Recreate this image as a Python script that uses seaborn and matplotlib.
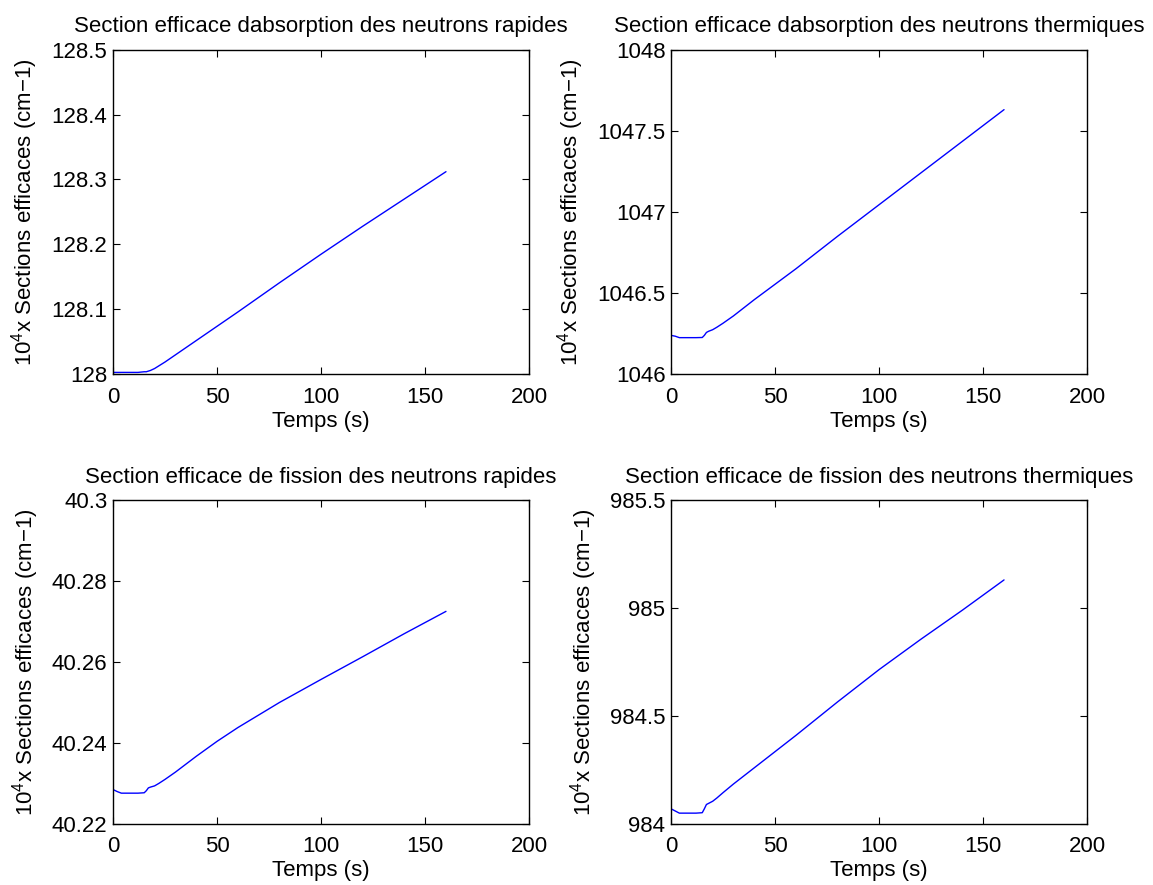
# Sections efficaces vs temps (4 panneaux)
import matplotlib
matplotlib.use("Agg")
import matplotlib.pyplot as plt
import seaborn as sns

# Data
t = [0, 2, 4, 8, 12, 15, 16, 17, 18, 20, 22, 25, 30, 40, 50, 60, 80, 100, 120, 140, 160]

abs_rapide = [128.003, 128.003, 128.003, 128.003, 128.003, 128.004, 128.004, 128.005, 128.006,
              128.009, 128.013, 128.019, 128.030, 128.052, 128.074, 128.096, 128.141, 128.185,
              128.228, 128.270, 128.312]
abs_thermique = [1046.24, 1046.235, 1046.226, 1046.226, 1046.226, 1046.227, 1046.24, 1046.258,
                 1046.265, 1046.275, 1046.29, 1046.315, 1046.36, 1046.46, 1046.555, 1046.65,
                 1046.85, 1047.045, 1047.24, 1047.435, 1047.63]
fis_rapide = [40.2285, 40.2280, 40.2276, 40.2276, 40.2276, 40.2277, 40.2282, 40.2289, 40.2291,
              40.2294, 40.2300, 40.2310, 40.2328, 40.2367, 40.2404, 40.2438, 40.2500, 40.2557,
              40.2613, 40.2670, 40.2725]
fis_thermique = [984.07, 984.06, 984.05, 984.05, 984.05, 984.052, 984.07, 984.09, 984.095,
                 984.105, 984.12, 984.145, 984.185, 984.26, 984.335, 984.41, 984.565, 984.715,
                 984.855, 984.99, 985.13]

titres = ["Section efficace dabsorption des neutrons rapides",
          "Section efficace dabsorption des neutrons thermiques",
          "Section efficace de fission des neutrons rapides",
          "Section efficace de fission des neutrons thermiques"]
x_ticks = [0, 50, 100, 150, 200]
y_ticks = [[128, 128.1, 128.2, 128.3, 128.4, 128.5],
           [1046, 1046.5, 1047, 1047.5, 1048],
           [40.22, 40.24, 40.26, 40.28, 40.3],
           [984, 984.5, 985, 985.5]]
y_labels = [["128", "128.1", "128.2", "128.3", "128.4", "128.5"],
            ["1046", "1046.5", "1047", "1047.5", "1048"],
            ["40.22", "40.24", "40.26", "40.28", "40.3"],
            ["984", "984.5", "985", "985.5"]]
series = [abs_rapide, abs_thermique, fis_rapide, fis_thermique]

sns.set_style("ticks")
plt.rcParams['font.family'] = ['Liberation Sans', 'DejaVu Sans']
plt.rcParams['mathtext.fontset'] = 'custom'
plt.rcParams['mathtext.rm'] = 'Liberation Sans'
plt.rcParams['mathtext.it'] = 'Liberation Sans'
plt.rcParams['text.color'] = 'black'
plt.rcParams['axes.labelcolor'] = 'black'

fs = 16
fig = plt.figure(figsize=(11.53, 8.85), dpi=100)
positions = [[0.098, 0.577, 0.361, 0.367],
             [0.582, 0.577, 0.361, 0.367],
             [0.098, 0.069, 0.361, 0.366],
             [0.582, 0.069, 0.361, 0.366]]

for i in range(4):
    ax = fig.add_axes(positions[i])
    sns.lineplot(x=t, y=series[i], ax=ax, color='#0000ff', lw=1)
    ax.set_xlim(0, 200)
    ax.set_ylim(y_ticks[i][0], y_ticks[i][-1])
    ax.set_xticks(x_ticks)
    ax.set_xticklabels([str(v) for v in x_ticks])
    ax.set_yticks(y_ticks[i])
    ax.set_yticklabels(y_labels[i])
    ax.tick_params(direction='in', top=True, right=True, length=5, width=0.8,
                   labelsize=fs, colors='black')
    ax.tick_params(axis='x', pad=9)
    ax.tick_params(axis='y', pad=4)
    for sp in ax.spines.values():
        sp.set_linewidth(1.0)
        sp.set_color('black')
    ax.set_title(titres[i], fontsize=fs, pad=12.5, color='black')
    ax.set_xlabel("Temps (s)", fontsize=fs, labelpad=2, color='black')
    ax.set_ylabel(r"10$^4$x Sections efficaces (cm−1)", fontsize=fs, labelpad=8, color='black')

fig.savefig("out.png", dpi=100)
